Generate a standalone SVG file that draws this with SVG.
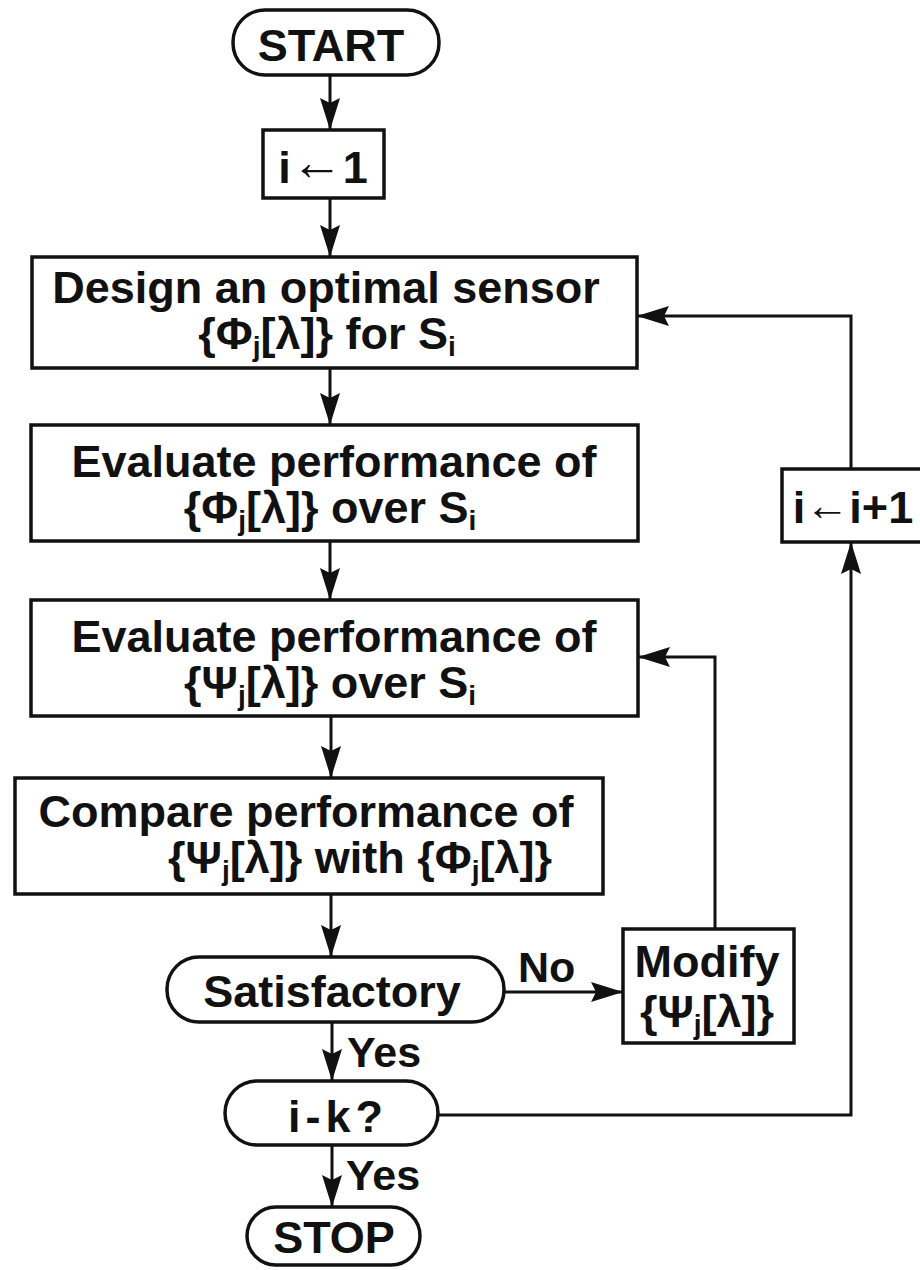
<svg xmlns="http://www.w3.org/2000/svg" width="920" height="1270" viewBox="0 0 920 1270">
  <defs>
    <!-- filled arrowhead with a slight notch at the back -->
    <marker id="ah" markerUnits="userSpaceOnUse" markerWidth="32" markerHeight="20" viewBox="0 0 32 20" refX="32" refY="10" orient="auto">
      <path d="M0,0 L32,10 L0,20 L5,10 z" fill="#111"/>
    </marker>
    <style>
      .box{fill:#fff;stroke:#111;stroke-width:3.5}
      .t{font-family:"Liberation Sans",Arial,sans-serif;font-weight:bold;font-size:45px;fill:#111;text-anchor:middle}
      .l{font-family:"Liberation Sans",Arial,sans-serif;font-weight:bold;font-size:43px;fill:#111}
      .sub{font-size:28px}
      .arr{font-size:52px}
      .c{fill:none;stroke:#111;stroke-width:3}
    </style>
  </defs>
  <rect width="920" height="1270" fill="#fff"/>

  <g id="connectors">
    <path class="c" d="M330,75 V130" marker-end="url(#ah)"/>
    <path class="c" d="M330,198 V257" marker-end="url(#ah)"/>
    <path class="c" d="M330,368 V425" marker-end="url(#ah)"/>
    <path class="c" d="M330,541 V600" marker-end="url(#ah)"/>
    <path class="c" d="M331,716 V778" marker-end="url(#ah)"/>
    <path class="c" d="M331,894 V957" marker-end="url(#ah)"/>
    <path class="c" d="M504,992 H623" marker-end="url(#ah)"/>
    <path class="c" d="M332,1022 V1081" marker-end="url(#ah)"/>
    <path class="c" d="M332,1145 V1207" marker-end="url(#ah)"/>
    <path class="c" d="M715,929 V657 H638" marker-end="url(#ah)"/>
    <path class="c" d="M438,1115 H851 V542" marker-end="url(#ah)"/>
    <path class="c" d="M851,469 V316 H637" marker-end="url(#ah)"/>
    <text class="l" x="518" y="982">No</text>
    <text class="l" x="347" y="1067">Yes</text>
    <text class="l" x="346" y="1190">Yes</text>
  </g>

  <g id="start">
    <rect class="box" x="233" y="10" width="206" height="65" rx="32"/>
    <text class="t" x="331" y="61">START</text>
  </g>

  <g id="init">
    <rect class="box" x="263" y="130" width="121" height="68"/>
    <text class="t" x="323" y="183">i<tspan class="arr" dy="-3">←</tspan><tspan dy="3">1</tspan></text>
  </g>

  <g id="design">
    <rect class="box" x="32" y="257" width="605" height="111"/>
    <text class="t"><tspan x="326" y="303">Design an optimal sensor</tspan><tspan x="327" y="349">{Φ</tspan><tspan class="sub" dy="7">j</tspan><tspan dy="-7">[λ]} for S</tspan><tspan class="sub" dy="7">i</tspan></text>
  </g>

  <g id="eval-phi">
    <rect class="box" x="31" y="425" width="607" height="116"/>
    <text class="t"><tspan x="334" y="477">Evaluate  performance of</tspan><tspan x="330" y="523">{Φ</tspan><tspan class="sub" dy="7">j</tspan><tspan dy="-7">[λ]} over  S</tspan><tspan class="sub" dy="7">i</tspan></text>
  </g>

  <g id="eval-psi">
    <rect class="box" x="31" y="600" width="607" height="116"/>
    <text class="t"><tspan x="334" y="652">Evaluate  performance of</tspan><tspan x="330" y="698">{Ψ</tspan><tspan class="sub" dy="7">j</tspan><tspan dy="-7">[λ]} over  S</tspan><tspan class="sub" dy="7">i</tspan></text>
  </g>

  <g id="compare">
    <rect class="box" x="15" y="778" width="588" height="116"/>
    <text class="t"><tspan x="306" y="827">Compare performance  of</tspan><tspan x="360" y="873">{Ψ</tspan><tspan class="sub" dy="7">j</tspan><tspan dy="-7">[λ]} with  {Φ</tspan><tspan class="sub" dy="7">j</tspan><tspan dy="-7">[λ]}</tspan></text>
  </g>

  <g id="satisfactory">
    <rect class="box" x="167" y="957" width="337" height="65" rx="32"/>
    <text class="t" x="332" y="1007">Satisfactory</text>
  </g>

  <g id="modify">
    <rect class="box" x="623" y="929" width="171" height="114"/>
    <text class="t"><tspan x="707" y="977">Modify</tspan><tspan x="707" y="1027">{Ψ</tspan><tspan class="sub" dy="7">j</tspan><tspan dy="-7">[λ]}</tspan></text>
  </g>

  <g id="check-k">
    <rect class="box" x="225" y="1081" width="213" height="64" rx="32"/>
    <text class="t" x="338" y="1132" letter-spacing="5">i-k?</text>
  </g>

  <g id="increment">
    <rect class="box" x="782" y="469" width="140" height="73"/>
    <text class="t" x="853" y="523">i<tspan font-size="44px" dy="-3">←</tspan><tspan dy="3">i+1</tspan></text>
  </g>

  <g id="stop">
    <rect class="box" x="247" y="1207" width="173" height="58" rx="29"/>
    <text class="t" x="334" y="1253">STOP</text>
  </g>
</svg>
